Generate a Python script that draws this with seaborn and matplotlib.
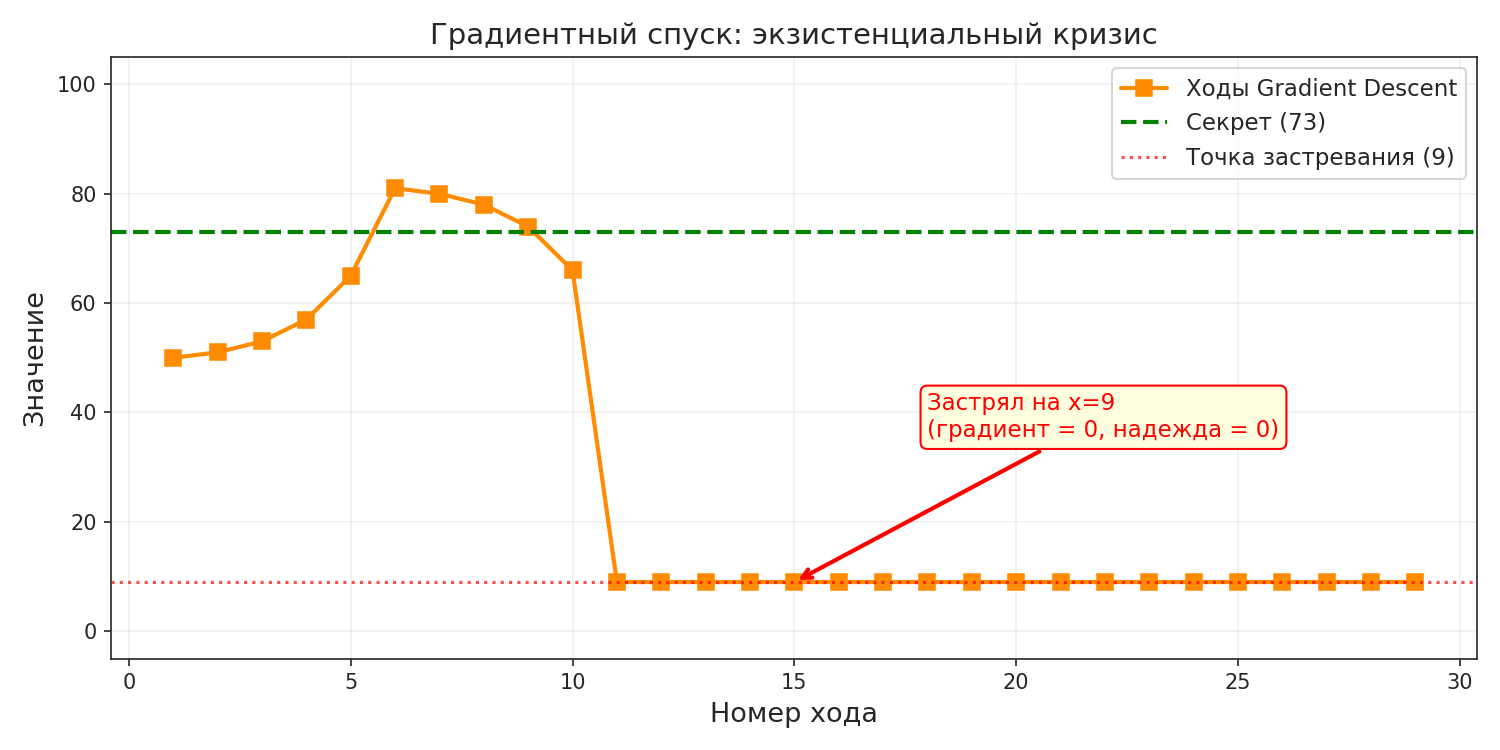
import matplotlib
matplotlib.use("Agg")
import matplotlib.pyplot as plt
import seaborn as sns
import pandas as pd

# moves and values
moves = list(range(1, 30))
values = [50, 51, 53, 57, 65, 81, 80, 78, 74, 66] + [9] * 19
secret = 73
stuck = 9

sns.set_style("ticks")
plt.rcParams['font.family'] = ['DejaVu Sans']

df = pd.DataFrame({'move': moves, 'value': values})

fig, ax = plt.subplots(figsize=(10, 5), dpi=150)
sns.lineplot(data=df, x='move', y='value', ax=ax, color='darkorange', linewidth=2,
             marker='s', markersize=8, markeredgecolor='darkorange',
             label='Ходы Gradient Descent')
ax.axhline(secret, color='green', linestyle='--', linewidth=2, label=f'Секрет ({secret})')
ax.axhline(stuck, color='red', linestyle=':', linewidth=1.5, alpha=0.7,
           label=f'Точка застревания ({stuck})')

ax.annotate('Застрял на x=9\n(градиент = 0, надежда = 0)', xy=(15, 9), xytext=(18, 35.5),
            fontsize=11, color='red',
            bbox=dict(boxstyle='round,pad=0.3', facecolor='lightyellow', edgecolor='red'),
            arrowprops=dict(arrowstyle='->', color='red', lw=2))

ax.set_xlim(-0.4, 30.4)
ax.set_ylim(-5, 105)
ax.set_xlabel('Номер хода', fontsize=13)
ax.set_ylabel('Значение', fontsize=13)
ax.set_title('Градиентный спуск: экзистенциальный кризис', fontsize=14)
ax.grid(True, alpha=0.3)
ax.legend(loc='upper right', fontsize=11)

plt.tight_layout()
plt.savefig('out.png', dpi=150)
